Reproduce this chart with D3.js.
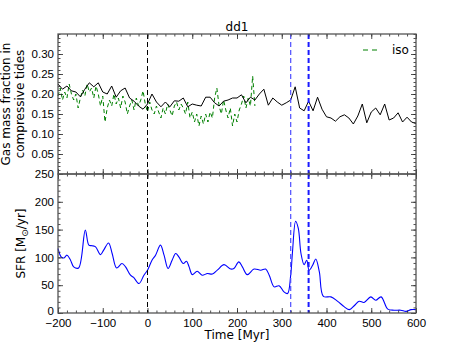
<!DOCTYPE html>
<html>
<head>
<meta charset="utf-8">
<script src="https://cdn.jsdelivr.net/npm/d3@7"></script>
<style>
  body { margin: 0; background: #fff; }
  svg { display: block; font-family: "DejaVu Sans", sans-serif; }
</style>
</head>
<body>
<svg id="chart"></svg>
<script>
// compressive tide fraction, merger run (10 Myr sampling)
const tideTime = [-200,-190,-180,-170,-160,-150,-140,-130,-120,-110,-100,-90,-80,-70,-60,-50,-40,-30,-20,-10,
  0,10,20,30,40,50,60,70,80,90,100,110,120,130,140,150,160,170,180,190,200,210,220,230,240,250,260,270,280,290,
  300,310,320,330,340,350,360,370,380,390,400,410,420,430,440,450,460,470,480,490,500,510,520,530,540,550,560,570,580,590,600];
const tideDd1 = [0.225,0.212,0.220,0.208,0.205,0.193,0.212,0.228,0.218,0.228,0.205,0.200,0.220,0.192,0.208,0.215,0.190,0.182,0.170,0.162,
  0.175,0.200,0.180,0.168,0.180,0.168,0.183,0.182,0.190,0.168,0.175,0.172,0.170,0.192,0.192,0.178,0.170,0.182,0.185,0.190,
  0.190,0.198,0.178,0.192,0.185,0.200,0.212,0.172,0.190,0.180,0.172,0.178,0.185,0.218,0.165,0.158,0.182,0.158,0.192,0.162,
  0.143,0.140,0.132,0.143,0.148,0.140,0.125,0.145,0.175,0.128,0.155,0.165,0.148,0.175,0.135,0.140,0.153,0.130,0.142,0.130,0.126];

// isolated run (5 Myr sampling)
const isoTime = [-200,-195,-190,-185,-180,-175,-170,-165,-160,-155,-150,-145,-140,-135,-130,-125,-120,-115,-110,-105,
  -100,-95,-90,-85,-80,-75,-70,-65,-60,-55,-50,-45,-40,-35,-30,-25,-20,-15,-10,-5,
  0,5,10,15,20,25,30,35,40,45,50,55,60,65,70,75,80,85,90,95,100,105,110,115,120,125,130,135,140,145,
  150,155,160,165,170,175,180,185,190,195,200,205,210,215,220,225,230,235,240];
const isoVals = [0.195,0.215,0.185,0.205,0.190,0.225,0.200,0.185,0.200,0.165,0.190,0.210,0.195,0.225,0.205,0.215,0.190,0.220,0.200,0.170,
  0.195,0.130,0.165,0.185,0.170,0.200,0.175,0.190,0.165,0.195,0.180,0.150,0.170,0.185,0.160,0.190,0.170,0.185,0.208,0.175,
  0.155,0.180,0.160,0.150,0.170,0.155,0.140,0.165,0.150,0.175,0.160,0.145,0.170,0.180,0.160,0.175,0.165,0.150,0.180,0.140,
  0.155,0.130,0.150,0.120,0.145,0.125,0.150,0.130,0.155,0.140,0.190,0.215,0.170,0.150,0.185,0.160,0.140,0.165,0.120,0.150,
  0.130,0.160,0.175,0.195,0.165,0.190,0.170,0.245,0.170];

// star formation rate [Msun/yr]
const sfrTime = [-200,-193,-187,-180,-172,-165,-154,-139,-131,-124,-116,-105,-98,-87,-79,-69,-57,-49,-38,-31,-19,-8,
  0,10,18,29,37,46,55,63,70,80,87,93,100,111,122,134,145,156,171,186,193,204,212,223,238,253,264,272,283,294,305,313,
  320,324,331,337,343,350,356,361,369,376,384,393,410,425,440,451,462,473,484,499,510,522,537,551,566,578,589,600];
const sfrVals = [116,101,99,104,95,83,81,149,122,121,119,105,113,126,107,81,89,83,68,64,53,68,
  77,95,104,122,104,80,95,107,101,89,93,83,69,75,68,71,70,77,87,79,80,92,83,69,79,77,79,68,47,49,38,35,
  68,110,165,152,107,87,95,77,86,97,74,30,29,21,11,6,13,21,19,29,23,29,7,5,5,3,6,6];

const xTicks = [-200,-100,0,100,200,300,400,500,600];
const tideTicks = [0.05,0.10,0.15,0.20,0.25,0.30];
const sfrTicks = [0,50,100,150,200,250];
const markers = [0, 320, 360];

const W = 463, H = 348;
const L = 58, R = 416, T = 34, MID = 174, B = 313;

const svg = d3.select("#chart").attr("width", W).attr("height", H);

const x = d3.scaleLinear().domain([-200, 600]).range([L, R]);
const yTop = d3.scaleLinear().domain([0, 0.35]).range([MID, T]);
const ySfr = d3.scaleLinear().domain([0, 250]).range([B, MID]);

function styleAxis(g) {
  g.select(".domain").remove();
  g.selectAll("line").attr("stroke", "#222").attr("stroke-width", 0.8);
  g.selectAll("text").attr("fill", "#000").style("font-size", "11.5px");
}

function frame(y0, y1, yScale, majors, minorStep, fmt) {
  // x ticks, inward, top and bottom
  const minorX = d3.range(-200, 601, 20);
  svg.append("g").attr("transform", `translate(0,${y1})`)
    .call(d3.axisBottom(x).tickValues(minorX).tickSize(-2.5).tickFormat("")).call(styleAxis);
  svg.append("g").attr("transform", `translate(0,${y0})`)
    .call(d3.axisTop(x).tickValues(minorX).tickSize(-2.5).tickFormat("")).call(styleAxis);
  svg.append("g").attr("transform", `translate(0,${y1})`)
    .call(d3.axisBottom(x).tickValues(xTicks).tickSize(-5).tickFormat("")).call(styleAxis);
  svg.append("g").attr("transform", `translate(0,${y0})`)
    .call(d3.axisTop(x).tickValues(xTicks).tickSize(-5).tickFormat("")).call(styleAxis);

  const [d0, d1] = yScale.domain();
  const minorY = d3.range(d0, d1 + 1e-9, minorStep);
  svg.append("g").attr("transform", `translate(${L},0)`)
    .call(d3.axisLeft(yScale).tickValues(minorY).tickSize(-2.5).tickFormat("")).call(styleAxis);
  svg.append("g").attr("transform", `translate(${R},0)`)
    .call(d3.axisRight(yScale).tickValues(minorY).tickSize(-2.5).tickFormat("")).call(styleAxis);
  const lab = svg.append("g").attr("transform", `translate(${L},0)`)
    .call(d3.axisLeft(yScale).tickValues(majors).tickSize(-5).tickPadding(4).tickFormat(fmt)).call(styleAxis);
  svg.append("g").attr("transform", `translate(${R},0)`)
    .call(d3.axisRight(yScale).tickValues(majors).tickSize(-5).tickFormat("")).call(styleAxis);
  return lab;
}

// markers
function vlines(y0, y1) {
  svg.append("line").attr("x1", x(markers[0])).attr("x2", x(markers[0])).attr("y1", y0).attr("y2", y1)
    .attr("stroke", "#000").attr("stroke-width", 1).attr("stroke-dasharray", "5,3");
  svg.append("line").attr("x1", x(markers[1])).attr("x2", x(markers[1])).attr("y1", y0).attr("y2", y1)
    .attr("stroke", "#4d4dff").attr("stroke-width", 1.2).attr("stroke-dasharray", "5,3");
  svg.append("line").attr("x1", x(markers[2])).attr("x2", x(markers[2])).attr("y1", y0).attr("y2", y1)
    .attr("stroke", "#1a1aff").attr("stroke-width", 2).attr("stroke-dasharray", "5,3");
}

// top panel
svg.append("path")
  .datum(isoTime.map((t, i) => [t, isoVals[i]]))
  .attr("fill", "none").attr("stroke", "#008000").attr("stroke-width", 1)
  .attr("stroke-dasharray", "4,3")
  .attr("d", d3.line().x(d => x(d[0])).y(d => yTop(d[1])));

svg.append("path")
  .datum(tideTime.map((t, i) => [t, tideDd1[i]]))
  .attr("fill", "none").attr("stroke", "#000").attr("stroke-width", 1)
  .attr("d", d3.line().x(d => x(d[0])).y(d => yTop(d[1])));

vlines(T, MID);

// bottom panel
svg.append("path")
  .datum(sfrTime.map((t, i) => [t, sfrVals[i]]))
  .attr("fill", "none").attr("stroke", "#0000ff").attr("stroke-width", 1.1)
  .attr("d", d3.line().curve(d3.curveCatmullRom.alpha(0.5)).x(d => x(d[0])).y(d => ySfr(d[1])));

vlines(MID, B);

frame(T, MID, yTop, tideTicks, 0.01, d3.format(".2f"));
const sfrLab = frame(MID, B, ySfr, sfrTicks, 10, d3.format("d"));
// lift the "0" a touch so it clears the -200 below it
sfrLab.selectAll(".tick").filter(d => d === 0).select("text").attr("y", -2);

// x tick labels
svg.append("g").attr("transform", `translate(0,${B})`)
  .call(d3.axisBottom(x).tickValues(xTicks).tickSize(0).tickPadding(6).tickFormat(d3.format("d")))
  .call(styleAxis);

// spines
[[T, MID], [MID, B]].forEach(([y0, y1]) => {
  svg.append("rect").attr("x", L).attr("y", y0).attr("width", R - L).attr("height", y1 - y0)
    .attr("fill", "none").attr("stroke", "#555").attr("stroke-width", 1.3);
});

// labels
svg.append("text").attr("x", (L + R) / 2).attr("y", 31).attr("text-anchor", "middle")
  .style("font-size", "12px").text("dd1");
svg.append("text").attr("x", (L + R) / 2).attr("y", 339).attr("text-anchor", "middle")
  .style("font-size", "12px").text("Time [Myr]");

const yl = svg.append("text").attr("transform", `translate(10,${(T + MID) / 2}) rotate(-90)`)
  .attr("text-anchor", "middle").style("font-size", "12px");
yl.append("tspan").attr("x", 0).attr("dy", 0).text("Gas mass fraction in");
yl.append("tspan").attr("x", 0).attr("dy", 14).text("compressive tides");

const sl = svg.append("text").attr("transform", `translate(25,${(MID + B) / 2}) rotate(-90)`)
  .attr("text-anchor", "middle").style("font-size", "12px");
sl.append("tspan").text("SFR [M");
sl.append("tspan").attr("dy", 3).style("font-size", "9px").text("⊙");
sl.append("tspan").attr("dy", -3).text("/yr]");

// legend
svg.append("line").attr("x1", 363).attr("x2", 379).attr("y1", 50).attr("y2", 50)
  .attr("stroke", "#008000").attr("stroke-width", 1).attr("stroke-dasharray", "5,4");
svg.append("text").attr("x", 392).attr("y", 54).style("font-size", "12px").text("iso");
</script>
</body>
</html>
